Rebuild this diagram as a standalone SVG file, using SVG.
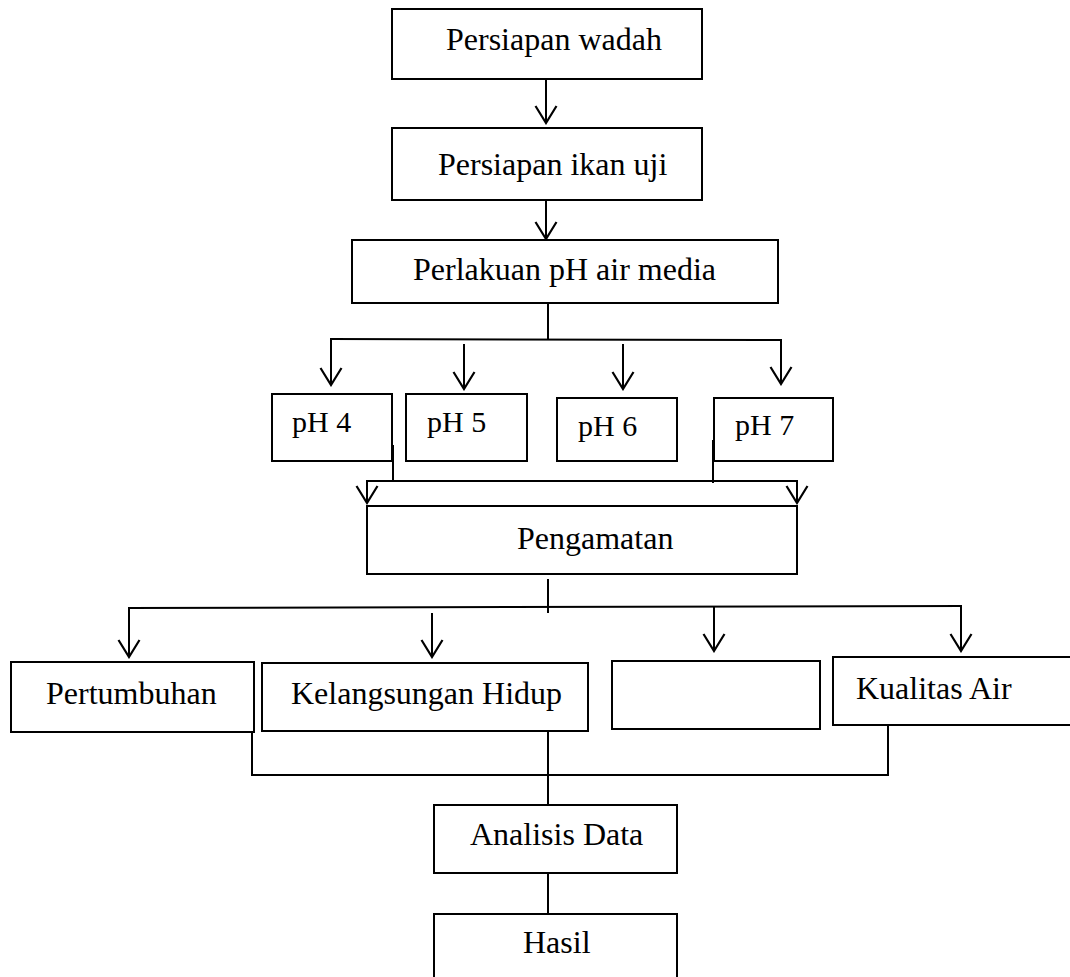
<svg xmlns="http://www.w3.org/2000/svg" width="1070" height="977" viewBox="0 0 1070 977">
<style>
.box{fill:#fff;stroke:#000;stroke-width:2}
.t{font-family:"Liberation Serif","Times New Roman",serif;font-size:32px;fill:#000}
.ph{font-size:30px}
.c line{stroke:#000;stroke-width:2}
.a{marker-end:url(#v)}
</style>
<defs>
<marker id="v" viewBox="-20 -12 22 24" markerWidth="22" markerHeight="24" refX="0" refY="0" orient="auto" markerUnits="userSpaceOnUse">
<path d="M-17,-10.5 L0,0 L-17,10.5" fill="none" stroke="#000" stroke-width="2.2"/>
</marker>
</defs>
<rect width="1070" height="977" fill="#fff"/>
<g class="c" id="connectors">
<line class="a" x1="546" y1="79" x2="546" y2="123"/>
<line class="a" x1="546" y1="200" x2="546" y2="239"/>
<line x1="548" y1="303" x2="548" y2="339"/>
<line x1="330" y1="339" x2="782" y2="340"/>
<line class="a" x1="331" y1="339" x2="331" y2="385"/>
<line class="a" x1="464" y1="344" x2="464" y2="389"/>
<line class="a" x1="623" y1="344" x2="623" y2="389"/>
<line class="a" x1="781" y1="340" x2="781" y2="384"/>
<line x1="393" y1="445" x2="393" y2="481"/>
<line x1="713" y1="440" x2="713" y2="483"/>
<line x1="366" y1="481" x2="798" y2="481"/>
<line class="a" x1="367" y1="481" x2="367" y2="503"/>
<line class="a" x1="797" y1="481" x2="797" y2="503"/>
<line x1="548" y1="579" x2="548" y2="613"/>
<line x1="128" y1="608" x2="962" y2="606"/>
<line class="a" x1="129" y1="608" x2="129" y2="657"/>
<line class="a" x1="432" y1="613" x2="432" y2="657"/>
<line class="a" x1="714" y1="607" x2="714" y2="651"/>
<line class="a" x1="961" y1="606" x2="961" y2="651"/>
<line x1="252" y1="732" x2="252" y2="775"/>
<line x1="251" y1="775" x2="889" y2="775"/>
<line x1="888" y1="726" x2="888" y2="776"/>
<line x1="548" y1="731" x2="548" y2="805"/>
<line x1="548" y1="873" x2="548" y2="914"/>
</g>
<g id="n1"><rect class="box" x="392" y="9" width="310" height="70"/><text class="t" x="446" y="50">Persiapan wadah</text></g>
<g id="n2"><rect class="box" x="392" y="128" width="310" height="72"/><text class="t" x="438" y="175">Persiapan ikan uji</text></g>
<g id="n3"><rect class="box" x="352" y="240" width="426" height="63"/><text class="t" x="413" y="280">Perlakuan pH air media</text></g>
<g id="ph4"><rect class="box" x="272" y="394" width="120" height="67"/><text class="t ph" x="292" y="432">pH 4</text></g>
<g id="ph5"><rect class="box" x="406" y="394" width="121" height="67"/><text class="t ph" x="427" y="432">pH 5</text></g>
<g id="ph6"><rect class="box" x="557" y="398" width="120" height="63"/><text class="t ph" x="578" y="436">pH 6</text></g>
<g id="ph7"><rect class="box" x="714" y="398" width="119" height="63"/><text class="t ph" x="735" y="435">pH 7</text></g>
<g id="pengamatan"><rect class="box" x="367" y="506" width="430" height="68"/><text class="t" x="517" y="549">Pengamatan</text></g>
<g id="pertumbuhan"><rect class="box" x="11" y="662" width="243" height="70"/><text class="t" x="46" y="704">Pertumbuhan</text></g>
<g id="kelangsungan"><rect class="box" x="262" y="663" width="326" height="68"/><text class="t" x="291" y="704">Kelangsungan Hidup</text></g>
<g id="kosong"><rect class="box" x="612" y="661" width="208" height="68"/></g>
<g id="kualitas"><rect class="box" x="833" y="657" width="240" height="68"/><text class="t" x="856" y="699">Kualitas Air</text></g>
<g id="analisis"><rect class="box" x="434" y="805" width="243" height="68"/><text class="t" x="470" y="845">Analisis Data</text></g>
<g id="hasil"><rect class="box" x="434" y="914" width="243" height="80"/><text class="t" x="523" y="953">Hasil</text></g>
</svg>
